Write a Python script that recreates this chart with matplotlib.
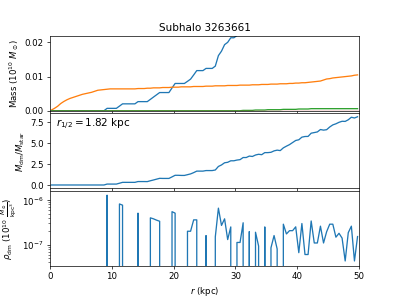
import numpy as np
import matplotlib
matplotlib.use('Agg')
import matplotlib.pyplot as plt

# radial bins (kpc), bin width 0.5
dr = 0.5
r_kpc = np.arange(0.25, 50, dr)

# dark matter density in the non-empty bins (1e10 Msun / kpc^3)
rho_r = [9.25, 11.25, 11.75, 14.25, 16.25, 16.75, 17.25, 17.75, 19.75, 20.25,
         22.25, 22.75, 23.25, 23.75, 25.25, 26.75, 27.25, 27.75, 28.25, 28.75,
         29.25, 30.25, 30.75, 31.25, 32.25, 33.25, 33.75, 34.75, 35.75, 36.25,
         36.75,
         37.75, 38.25, 38.75, 39.25, 39.75, 40.25, 40.75, 41.25, 41.75, 42.25,
         42.75, 43.25, 43.75, 44.25, 44.75, 45.25, 45.75, 46.25, 46.75, 47.25,
         47.75, 48.25, 48.75, 49.25, 49.75]
rho_v = [1.29e-6, 8.2e-7, 7.7e-7, 5.1e-7, 4.0e-7, 3.8e-7, 3.55e-7, 3.35e-7, 5.5e-7, 5.1e-7,
         2.0e-7, 2.0e-7, 3.6e-7, 3.6e-7, 1.6e-7, 1.5e-7, 6.6e-7, 2.7e-7, 3.8e-7, 1.3e-7,
         2.5e-7, 1.12e-7, 1.12e-7, 3.1e-7, 1.97e-7, 1.9e-7, 9.3e-8, 2.5e-7, 8.5e-8, 1.6e-7,
         8.0e-8,
         2.88e-7, 1.74e-7, 2.06e-7, 2.06e-7, 2.51e-7, 6.6e-8, 2.98e-7, 6.0e-8, 6.0e-8, 3.4e-7,
         1.09e-7, 1.09e-7, 2.6e-7, 1.09e-7, 1.95e-7, 2.88e-7, 2.88e-7, 1.47e-7, 1.8e-7, 1.4e-7,
         4.3e-8, 1.86e-7, 2.6e-7, 4.3e-8, 1.52e-7]

# enclosed stellar mass (1e10 Msun) at each bin
m_star = [0.0002, 0.0007, 0.0013, 0.0021, 0.0027, 0.0032, 0.0036, 0.0039, 0.0042, 0.0045,
          0.0048, 0.0050, 0.0052, 0.0054, 0.0057, 0.0060, 0.0061, 0.0062, 0.0063, 0.0064,
          0.0064, 0.0064, 0.0064, 0.0064, 0.0064, 0.0064, 0.0064, 0.0064, 0.0065, 0.0065,
          0.0065, 0.0066, 0.0066, 0.0067, 0.0067, 0.0067, 0.0068, 0.0068, 0.0068, 0.0069,
          0.0069, 0.0069, 0.0070, 0.0070, 0.0070, 0.0070, 0.0071, 0.0071, 0.0071, 0.0071,
          0.0072, 0.0072, 0.0072, 0.0073, 0.0073, 0.0073, 0.0073, 0.0074, 0.0074, 0.0074,
          0.0074, 0.0075, 0.0075, 0.0075, 0.0075, 0.0076, 0.0076, 0.0076, 0.0077, 0.0077,
          0.0077, 0.0078, 0.0078, 0.0078, 0.0079, 0.0079, 0.0079, 0.0080, 0.0080, 0.0081,
          0.0081, 0.0082, 0.0082, 0.0083, 0.0084, 0.0085, 0.0086, 0.0087, 0.0090, 0.0093,
          0.0094, 0.0096, 0.0097, 0.0098, 0.0099, 0.0100, 0.0101, 0.0102, 0.0104, 0.0105]

m_gas = [0.0] * 62 + [
    0.0001, 0.0001, 0.0001, 0.0001, 0.0002, 0.0002, 0.0002, 0.0002, 0.0003, 0.0003,
    0.0003, 0.0003, 0.0003, 0.0004, 0.0004, 0.0004, 0.0004, 0.0004, 0.0005, 0.0005,
    0.0005, 0.0005, 0.0006, 0.0006, 0.0006, 0.0006, 0.0006, 0.0006, 0.0006, 0.0006,
    0.0006, 0.0006, 0.0006, 0.0006, 0.0006, 0.0006, 0.0006, 0.0006]
m_bh = [0.0] * 100

r_half = 1.82
subhalo_id = 3263661

# density -> enclosed dm mass
rho_dm = np.zeros_like(r_kpc)
for rr, v in zip(rho_r, rho_v):
    rho_dm[np.argmin(np.abs(r_kpc - rr))] = v
m_dm = np.cumsum(rho_dm * 4 * np.pi * r_kpc**2 * dr)
ratio = m_dm / np.array(m_star)

fig, axs = plt.subplots(3, 1, sharex=True, figsize=(6.4, 4.8), dpi=399 / 6.4)
fig.subplots_adjust(hspace=0.035)

ax = axs[0]
ax.plot(r_kpc, m_dm)
ax.plot(r_kpc, m_star)
ax.plot(r_kpc, m_gas)
ax.plot(r_kpc, m_bh)
ax.set_ylim(0, 0.022)
ax.set_ylabel(r'Mass ($10^{10}$ $M_\odot$)')
ax.set_title('Subhalo %d' % subhalo_id)

ax = axs[1]
ax.plot(r_kpc, ratio)
ax.set_ylabel(r'$M_{\rm dm}/M_{\rm star}$')
ax.text(0.02, 0.96, r'$r_{1/2} = %.2f$ kpc' % r_half, transform=ax.transAxes,
        fontsize=12, va='top', ha='left')

ax = axs[2]
ax.plot(r_kpc, rho_dm)
ax.set_yscale('log')
ax.set_ylim(3.3e-8, 1.6e-6)
ax.set_ylabel(r'$\rho_{\rm dm}$ ($10^{10}$ $\frac{M_\odot}{\rm kpc^3}$)')
ax.set_xlabel(r'$r$ (kpc)')
ax.set_xlim(0, 50)

fig.savefig('out.png')
